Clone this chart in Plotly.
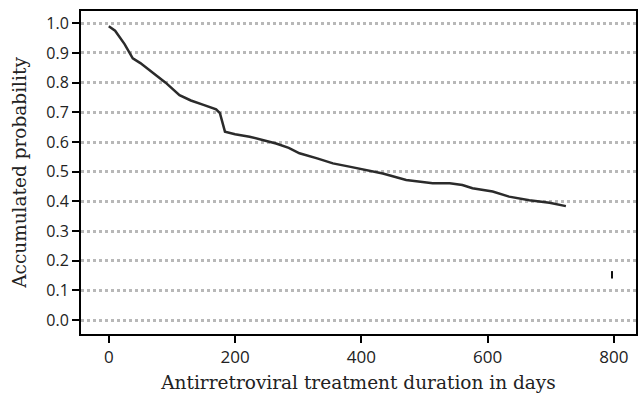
import plotly.graph_objects as go

days = [0, 10, 25, 38, 50, 67, 90, 112, 130, 150, 170, 176, 180, 184, 200, 223, 245, 265, 285, 302, 330, 355, 381, 410, 434, 471, 492, 513, 540, 560, 576, 608, 634, 666, 698, 724]
prob = [0.99, 0.975, 0.93, 0.882, 0.866, 0.837, 0.80, 0.758, 0.74, 0.725, 0.71, 0.697, 0.67, 0.635, 0.626, 0.618, 0.606, 0.595, 0.58, 0.562, 0.545, 0.528, 0.517, 0.505, 0.494, 0.472, 0.466, 0.461, 0.461, 0.455, 0.444, 0.433, 0.416, 0.404, 0.395, 0.384]

censor_x = [797, 797]
censor_y = [0.14, 0.165]

x_ticks = [0, 200, 400, 600, 800]
y_ticks = [0.0, 0.1, 0.2, 0.3, 0.4, 0.5, 0.6, 0.7, 0.8, 0.9, 1.0]

fig = go.Figure()
fig.add_trace(go.Scatter(x=days, y=prob, mode="lines",
                         line=dict(color="#2b2b2b", width=2.5), showlegend=False,
                         hoverinfo="skip"))
fig.add_trace(go.Scatter(x=censor_x, y=censor_y, mode="lines",
                         line=dict(color="#111111", width=2), showlegend=False,
                         hoverinfo="skip"))

fig.update_layout(
    width=639, height=408,
    margin=dict(l=81, r=3, t=11, b=74),
    plot_bgcolor="white", paper_bgcolor="white",
    font=dict(family="DejaVu Serif", color="#222222", size=16),
    xaxis=dict(range=[-44, 835], tickvals=x_ticks, ticks="outside", ticklen=7,
               tickwidth=2, tickcolor="black", showgrid=False, zeroline=False,
               showline=True, linecolor="black", linewidth=2, mirror=True,
               automargin=False,
               tickfont=dict(family="Open Sans", size=17),
               title=dict(text="Antirretroviral treatment duration in days",
                          font=dict(family="DejaVu Serif", size=18.5), standoff=9)),
    yaxis=dict(range=[-0.047, 1.0415], tickvals=y_ticks, tickformat=".1f",
               ticks="outside", ticklen=7, tickwidth=2, tickcolor="black",
               showgrid=True, gridcolor="#b8b8b8", gridwidth=2.5, griddash="dot",
               zeroline=False, showline=True, linecolor="black", linewidth=2, mirror=True,
               automargin=False,
               tickfont=dict(family="Open Sans", size=16),
               title=dict(text="Accumulated probability",
                          font=dict(family="DejaVu Serif", size=18.5), standoff=15)),
)

fig.write_html("out.html", config={"displayModeBar": False})

# remove the default page margin so the figure sits at the window's top-left corner
with open("out.html", "r", encoding="utf-8") as f:
    html = f.read()
html = html.replace("<head>", "<head><style>html,body{margin:0;padding:0;overflow:hidden}</style>", 1)
with open("out.html", "w", encoding="utf-8") as f:
    f.write(html)
